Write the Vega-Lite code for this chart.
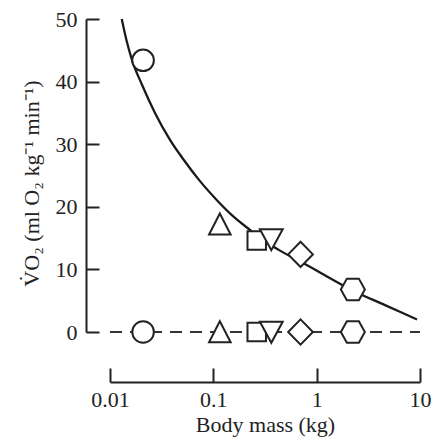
{
  "$schema": "https://vega.github.io/schema/vega-lite/v6.json",
  "width": 310,
  "height": 313,
  "autosize": {"type": "none"},
  "padding": {"left": 110, "top": 19, "right": 12, "bottom": 108},
  "background": "white",
  "config": {
    "view": {"stroke": null},
    "font": "Liberation Serif",
    "axis": {
      "grid": false,
      "domainColor": "#222222",
      "tickColor": "#222222",
      "labelColor": "#222222",
      "titleColor": "#222222",
      "labelFont": "Liberation Serif",
      "titleFont": "Liberation Serif",
      "labelFontSize": 22,
      "titleFontSize": 22,
      "titleFontWeight": "normal",
      "domainWidth": 2,
      "tickWidth": 2
    }
  },
  "datasets": {
    "curve": [
      {"mass": 0.01298, "vo2": 50.0},
      {"mass": 0.01444, "vo2": 46.6},
      {"mass": 0.01622, "vo2": 43.6},
      {"mass": 0.0204, "vo2": 39.5},
      {"mass": 0.02726, "vo2": 35.0},
      {"mass": 0.03807, "vo2": 30.7},
      {"mass": 0.05122, "vo2": 27.6},
      {"mass": 0.0743, "vo2": 24.1},
      {"mass": 0.1078, "vo2": 21.1},
      {"mass": 0.155, "vo2": 18.5},
      {"mass": 0.2263, "vo2": 16.3},
      {"mass": 0.3162, "vo2": 14.5},
      {"mass": 0.4418, "vo2": 13.0},
      {"mass": 0.6899, "vo2": 11.3},
      {"mass": 1.077, "vo2": 9.5},
      {"mass": 2.247, "vo2": 6.6},
      {"mass": 4.585, "vo2": 4.3},
      {"mass": 9.355, "vo2": 2.0}
    ],
    "zero": [
      {"mass": 0.01, "vo2": 0},
      {"mass": 10, "vo2": 0}
    ],
    "points": [
      {"kind": "circle", "mass": 0.0209, "vo2": 43.4},
      {"kind": "triangle", "mass": 0.1156, "vo2": 17.2},
      {"kind": "square", "mass": 0.263, "vo2": 14.6},
      {"kind": "triangle-down", "mass": 0.364, "vo2": 14.8},
      {"kind": "diamond", "mass": 0.698, "vo2": 12.4},
      {"kind": "hexagon", "mass": 2.24, "vo2": 6.8},
      {"kind": "circle", "mass": 0.0209, "vo2": 0},
      {"kind": "triangle", "mass": 0.1156, "vo2": 0},
      {"kind": "square", "mass": 0.263, "vo2": 0},
      {"kind": "triangle-down", "mass": 0.364, "vo2": 0},
      {"kind": "diamond", "mass": 0.698, "vo2": 0},
      {"kind": "hexagon", "mass": 2.24, "vo2": 0}
    ]
  },
  "encoding": {
    "x": {
      "field": "mass",
      "type": "quantitative",
      "scale": {"type": "log", "domain": [0.01, 10], "nice": false},
      "axis": {
        "title": "Body mass (kg)",
        "offset": 50,
        "tickSize": -14,
        "labelPadding": 21,
        "values": [0.01, 0.1, 1, 10],
        "format": "~g",
        "labelFlush": false,
        "labelOverlap": false,
        "titleX": 155,
        "titleY": 49,
        "titleBaseline": "alphabetic"
      }
    },
    "y": {
      "field": "vo2",
      "type": "quantitative",
      "scale": {"domain": [0, 50], "nice": false, "zero": false},
      "axis": {
        "title": "V̇O₂ (ml O₂ kg⁻¹ min⁻¹)",
        "offset": 24,
        "tickSize": -13,
        "labelPadding": 22,
        "values": [0, 10, 20, 30, 40, 50],
        "labelOverlap": false,
        "titleX": -48,
        "titleY": 164,
        "titleAngle": -90,
        "titleAlign": "center",
        "titleBaseline": "alphabetic"
      }
    }
  },
  "layer": [
    {
      "data": {"name": "zero"},
      "mark": {"type": "line", "color": "#333333", "strokeWidth": 2, "strokeDash": [12, 8]},
      "encoding": {}
    },
    {
      "data": {"name": "curve"},
      "mark": {"type": "line", "color": "#1a1a1a", "strokeWidth": 2.3, "interpolate": "monotone"},
      "encoding": {}
    },
    {
      "data": {"name": "points"},
      "mark": {"type": "point", "filled": false, "fill": "white", "fillOpacity": 1, "stroke": "#222222", "strokeWidth": 2, "size": 576, "opacity": 1},
      "encoding": {
        "shape": {
          "field": "kind",
          "type": "nominal",
          "legend": null,
          "scale": {
            "domain": ["circle", "triangle", "square", "triangle-down", "diamond", "hexagon"],
            "range": [
              "M0.9,0A0.9,0.9,0,1,1,-0.9,0A0.9,0.9,0,1,1,0.9,0Z",
              "M0,-0.9L0.9,0.85L-0.9,0.85Z",
              "M-0.77,-0.77L0.77,-0.77L0.77,0.77L-0.77,0.77Z",
              "M-0.95,-0.85L0.95,-0.85L0,0.9Z",
              "M0,-1.05L1.03,0L0,1.05L-1.03,0Z",
              "M-1,0L-0.5,-0.9L0.5,-0.9L1,0L0.5,0.9L-0.5,0.9Z"
            ]
          }
        }
      }
    }
  ]
}
